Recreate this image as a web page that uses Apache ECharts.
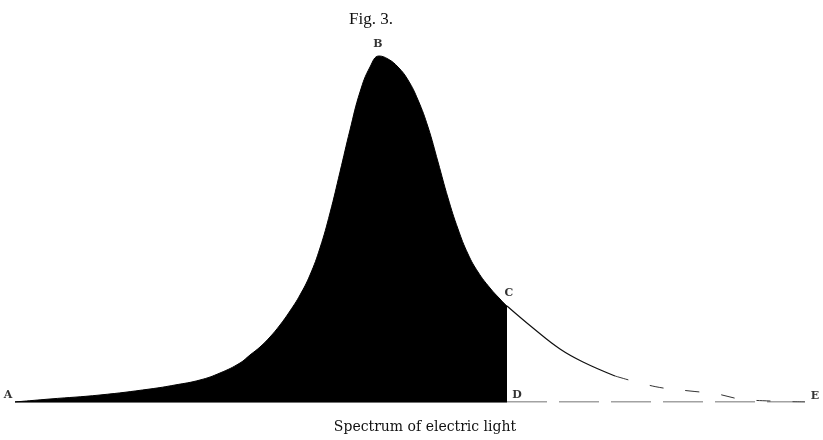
<!DOCTYPE html>
<html><head><meta charset="utf-8">
<script src="https://cdn.jsdelivr.net/npm/echarts@6/dist/echarts.min.js"></script>
<style>html,body{margin:0;padding:0;background:#fff}#c{width:823px;height:440px}</style>
</head><body><div id="c"></div>
<script>
// Filled part of the spectrum, A -> D (position, height)
const filledX = [15, 50, 100, 150, 175, 200, 220, 240, 250, 260, 270, 280, 290, 300, 310, 320, 330, 340, 350, 360, 370, 379, 388, 398, 408, 418, 428, 438, 448, 458, 468, 478, 490, 500, 507];
const filledH = [0, 3, 7, 13, 17, 22, 29, 39, 47, 55, 65, 77, 91, 107, 127, 154, 189, 230, 272, 310, 335, 346, 343, 335, 322, 302, 275, 240, 204, 173, 148, 130, 114, 103, 96];
// Curve continued past D (solid, then faint dashed)
const tailX = [507, 533, 560, 583, 615];
const tailH = [96, 74, 53, 40, 26];
const fadeX = [615, 640, 663, 690, 717, 740, 770, 805];
const fadeH = [26, 19, 14, 11, 8, 3, 1, 0];
const labels = [
  {name: 'A', x: 8, h: 7, bold: true},
  {name: 'B', x: 378, h: 358, bold: true},
  {name: 'C', x: 509, h: 109, bold: true},
  {name: 'D', x: 517, h: 7, bold: true},
  {name: 'E', x: 815, h: 6, bold: true},
  {name: 'red', x: 526, h: -9, bold: true},
  {name: 'bluc', x: 790, h: -9, bold: false}
];
const title = 'Fig. 3.';
const caption = 'Spectrum of electric light';

const pair = (xs, ys) => xs.map((x, i) => [x, ys[i]]);
const serif = '"Liberation Serif", "DejaVu Serif", serif';
const wide = '"DejaVu Serif", serif';

const chart = echarts.init(document.getElementById('c'));
chart.setOption({
  animation: false,
  backgroundColor: '#fff',
  title: [
    {text: title, left: 366, top: 6, textAlign: 'center',
     textStyle: {fontFamily: serif, fontSize: 17, fontWeight: 'normal', color: '#111'}},
    {text: caption, left: 420, top: 415, textAlign: 'center',
     textStyle: {fontFamily: wide, fontSize: 14, fontWeight: 'normal', color: '#111'}}
  ],
  grid: {left: 0, right: 0, top: 0, bottom: 38},
  xAxis: {type: 'value', min: 0, max: 823, show: false},
  yAxis: {type: 'value', min: 0, max: 402, show: false},
  series: [
    {type: 'line', data: pair(filledX, filledH), smooth: 0.45, showSymbol: false,
     lineStyle: {color: '#000', width: 1}, areaStyle: {color: '#000', opacity: 1}},
    {type: 'line', data: pair(tailX, tailH), smooth: 0.4, showSymbol: false,
     lineStyle: {color: '#111', width: 1.2}},
    {type: 'line', data: pair(fadeX, fadeH), smooth: 0.4, showSymbol: false,
     lineStyle: {color: '#333', width: 1, type: [14, 22]}},
    {type: 'line', data: pair([15, 507], [0, 0]), showSymbol: false,
     lineStyle: {color: '#000', width: 1.5}},
    {type: 'line', data: pair([507, 805], [0, 0]), showSymbol: false,
     lineStyle: {color: '#444', width: 1, type: [40, 12]}},
    {type: 'scatter', symbolSize: 0, silent: true,
     data: labels.map(l => ({value: [l.x, l.h], name: l.name,
       label: {fontWeight: l.bold ? 'bold' : 'normal'}})),
     label: {show: true, position: 'inside', formatter: p => p.name,
       fontFamily: wide, fontSize: 11, color: '#000'}}
  ]
});
</script></body></html>
